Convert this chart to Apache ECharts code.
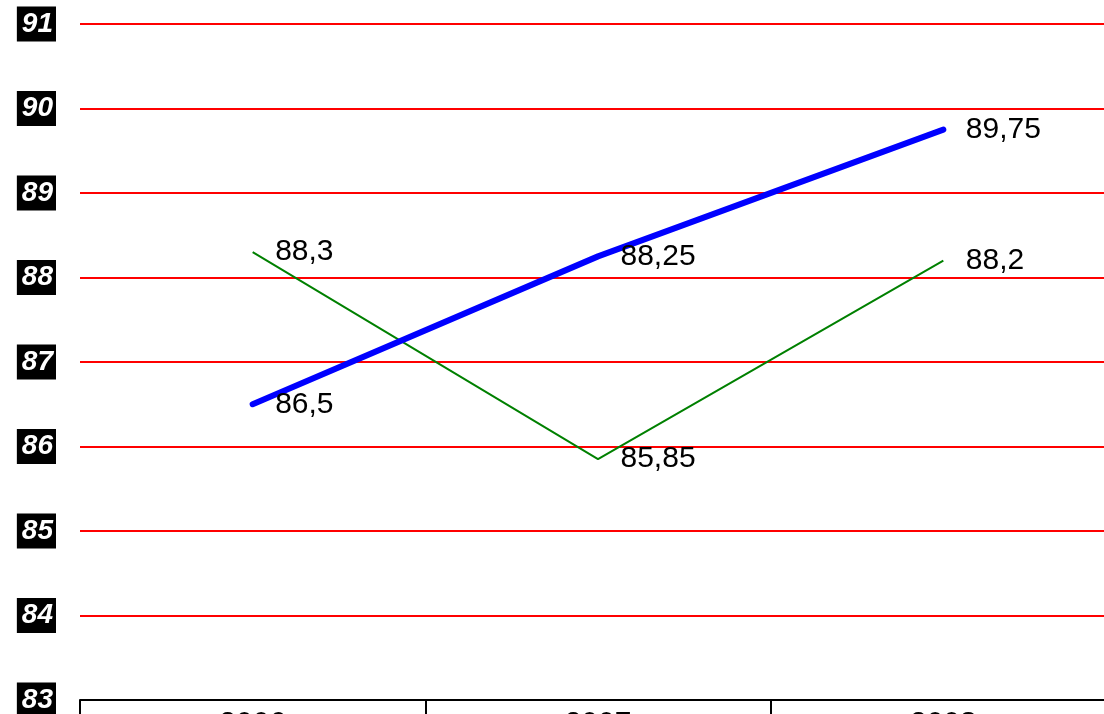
<!DOCTYPE html>
<html><head><meta charset="utf-8">
<script src="https://cdn.jsdelivr.net/npm/echarts@6/dist/echarts.min.js"></script>
<style>html,body{margin:0;padding:0;background:#fff}#c{width:1104px;height:714px}</style>
</head><body><div id="c"></div>
<script>
const categories = ['2006', '2007', '2008'];
const seriesBlue = [86.5, 88.25, 89.75];
const seriesGreen = [88.3, 85.85, 88.2];
const yTicks = [83, 84, 85, 86, 87, 88, 89, 90, 91];

const chart = echarts.init(document.getElementById('c'));
const fmt = p => String(p.value).replace('.', ',');
const lbl = {show: true, position: 'right', distance: 22, fontFamily: 'Liberation Sans, Arial', fontSize: 30, color: '#000', formatter: fmt};
chart.setOption({
  animation: false,
  grid: {left: 80, top: 24, bottom: 14, right: -12, outerBoundsMode: 'none', containLabel: false},
  xAxis: {
    type: 'category', data: categories, boundaryGap: true,
    axisLine: {lineStyle: {color: '#000', width: 2}},
    axisTick: {show: true, length: 30, lineStyle: {color: '#000', width: 2}},
    axisLabel: {fontFamily: 'Liberation Sans, Arial', fontSize: 30, color: '#000', margin: 9, verticalAlign: 'top', lineHeight: 30}
  },
  yAxis: {
    type: 'value', min: yTicks[0], max: yTicks[yTicks.length - 1], interval: 1,
    axisLine: {show: false}, axisTick: {show: false},
    splitLine: {lineStyle: {color: '#ff0000', width: 2}},
    axisLabel: {
      formatter: v => yTicks.includes(v) ? String(v) : '',
      fontFamily: 'Liberation Sans, Arial', fontSize: 28, fontWeight: 'bold', fontStyle: 'italic',
      lineHeight: 28, color: '#fff', backgroundColor: '#000', padding: [4, 3, 3, 5], margin: 24
    }
  },
  series: [
    {type: 'line', data: seriesBlue, symbol: 'circle', symbolSize: 1, showSymbol: true, itemStyle: {color: 'rgba(0,0,0,0)'}, lineStyle: {color: '#0000ff', width: 6, cap: 'round'}, label: lbl, labelLayout: {hideOverlap: false}, z: 3},
    {type: 'line', data: seriesGreen, symbol: 'circle', symbolSize: 1, showSymbol: true, itemStyle: {color: 'rgba(0,0,0,0)'}, lineStyle: {color: '#008000', width: 2}, label: lbl, labelLayout: {hideOverlap: false}, z: 2}
  ]
});
</script></body></html>
